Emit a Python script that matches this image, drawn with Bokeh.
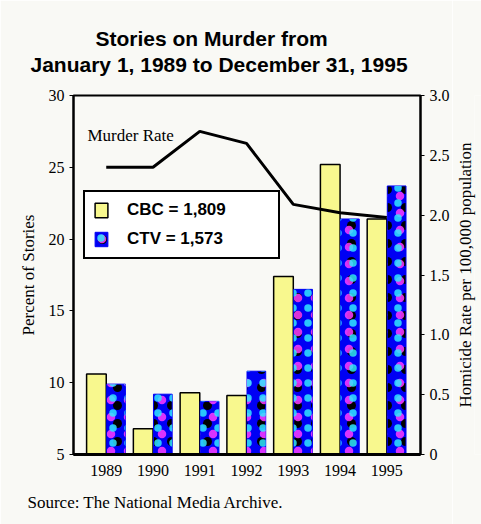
import math
from bokeh.plotting import figure
from bokeh.layouts import row
from bokeh.models import (ColumnDataSource, Range1d, LinearAxis, FixedTicker, Label,
                          Legend, LegendItem, NumeralTickFormatter, Title)
from bokeh.embed import file_html
from bokeh.resources import INLINE

# ---- data ----
years = ["1989", "1990", "1991", "1992", "1993", "1994", "1995"]
cbc = [10.6, 6.8, 9.3, 9.1, 17.4, 25.2, 21.4]
ctv = [9.9, 9.2, 8.7, 10.8, 16.5, 21.4, 23.7]
murder_rate = [2.40, 2.40, 2.70, 2.60, 2.09, 2.02, 1.98]
left_ticks = [5, 10, 15, 20, 25, 30]
right_ticks = [0, 0.5, 1.0, 1.5, 2.0, 2.5, 3.0]

SERIF = "Liberation Serif"
SANS = "Liberation Sans"
BG = "#f9f9f5"
YELLOW = "#f8f88e"
BLUE = "#0000f4"

idx = list(range(len(years)))
src = ColumnDataSource(dict(
    x=idx,
    x_cbc=[i - 0.21 for i in idx],
    x_ctv=[i + 0.21 for i in idx],
    cbc=cbc, ctv=ctv, rate=murder_rate))

TOP, BOTTOM = 95, 70

p = figure(width=452, height=524, output_backend="svg", toolbar_location=None,
           x_range=Range1d(-0.70, 6.72), y_range=Range1d(5, 30),
           min_border_left=73, min_border_right=30, min_border_top=TOP, min_border_bottom=BOTTOM)
p.extra_y_ranges = {"rate": Range1d(0, 3)}
p.background_fill_color = BG
p.border_fill_color = BG
p.outline_line_color = "black"
p.outline_line_width = 2
p.outline_line_alpha = 1
p.xgrid.visible = False
p.ygrid.visible = False


def safe_standoff(t, v, fallback=0):
    try:
        t.standoff = v
        return v
    except ValueError:
        t.standoff = fallback
        return fallback


# titles: items in p.above stack outward from the plot; p.title is outermost
def set_title(t, text, offset, standoff):
    t.text = text
    t.align = "left"
    t.offset = offset
    t.text_font = SANS
    t.text_font_size = "21px"
    t.text_font_style = "bold"
    t.text_color = "black"
    return safe_standoff(t, standoff)

s1 = set_title(p.title, "Stories on Murder from", 22, 5)
gap = Title(text=" ", text_font_size="2px")
t2 = Title()
s2 = set_title(t2, "January 1, 1989 to December 31, 1995", -43, -3)
gap.standoff = 17 if s2 < 0 else 12
p.add_layout(gap, "above")
p.add_layout(t2, "above")

# source note
p.add_layout(Title(text="Source: The National Media Archive.", align="left", offset=-46,
                   text_font=SERIF, text_font_size="17px", text_font_style="normal",
                   text_color="black", standoff=25), "below")

# bars
cbc_r = p.vbar(x="x_cbc", top="cbc", bottom=5, width=0.42, source=src,
               fill_color=YELLOW, line_color="black", line_width=1.5)
ctv_r = p.vbar(x="x_ctv", top="ctv", bottom=5, width=0.40, source=src,
               fill_color=BLUE, line_color=BLUE, line_width=1,
               hatch_pattern="dot", hatch_color="black", hatch_scale=18, hatch_weight=0.1)
ctv_m = p.vbar(x="x_ctv", top="ctv", bottom=5, width=0.40, source=src,
               fill_alpha=0, line_alpha=0, hatch_alpha=0.85,
               hatch_pattern="dot", hatch_color="#ff3cff", hatch_scale=17, hatch_weight=0.1)
ctv_c = p.vbar(x="x_ctv", top="ctv", bottom=5, width=0.40, source=src,
               fill_alpha=0, line_alpha=0, hatch_alpha=0.85,
               hatch_pattern="dot", hatch_color="#30e8ff", hatch_scale=15, hatch_weight=0.1)

# murder rate line
p.line(x="x", y="rate", source=src, y_range_name="rate", line_color="black", line_width=3)

def style_axis(ax):
    ax.major_label_text_font = SERIF
    ax.major_label_text_font_size = "16px"
    ax.major_label_text_color = "black"
    ax.axis_label_text_color = "black"
    ax.axis_line_color = "black"
    ax.major_tick_line_color = "black"
    ax.minor_tick_out = 0
    ax.minor_tick_in = 0
    ax.major_tick_in = 0

# axes
yax = p.yaxis[0]
style_axis(yax)
yax.ticker = FixedTicker(ticks=left_ticks)
yax.axis_label = "Percent of Stories"
yax.axis_label_text_font = SERIF
yax.axis_label_text_font_size = "17px"
yax.axis_label_text_font_style = "normal"
yax.axis_label_standoff = 8
yax.major_label_standoff = 5
yax.major_tick_out = 4
yax.axis_line_width = 2

xax = p.xaxis[0]
style_axis(xax)
xax.ticker = FixedTicker(ticks=idx)
xax.major_label_overrides = {i: y for i, y in zip(idx, years)}
xax.major_label_standoff = 10
xax.major_tick_out = 0
xax.axis_line_width = 3

rax = LinearAxis(y_range_name="rate", ticker=FixedTicker(ticks=right_ticks),
                 formatter=NumeralTickFormatter(format="0.0"))
style_axis(rax)
rax.major_label_overrides = {0: "0"}
rax.major_label_standoff = 5
rax.major_tick_out = 4
rax.axis_line_width = 2
p.add_layout(rax, "right")

# legend
legend = Legend(items=[LegendItem(label="CBC = 1,809", renderers=[cbc_r]),
                       LegendItem(label="CTV = 1,573", renderers=[ctv_r, ctv_m, ctv_c])],
                location=(10, 195), orientation="vertical",
                glyph_width=16, glyph_height=18, label_height=18, label_width=143,
                label_standoff=18, padding=8, spacing=9, margin=0,
                border_line_color="black", border_line_width=2, border_line_alpha=1,
                background_fill_color="white", background_fill_alpha=1,
                label_text_font=SANS, label_text_font_style="bold",
                label_text_font_size="17px", label_text_color="black")
p.add_layout(legend, "center")

p.add_layout(Label(x=14, y=319, x_units="screen", y_units="screen", text="Murder Rate",
                   text_font=SERIF, text_font_size="17px", text_baseline="middle",
                   text_color="black"))

# narrow strip on the right carrying the right-hand axis title (reads bottom to top)
q = figure(width=29, height=524, output_backend="svg", toolbar_location=None,
           x_range=Range1d(0, 1), y_range=Range1d(0, 3),
           min_border_left=21, min_border_right=0, min_border_top=TOP, min_border_bottom=BOTTOM)
q.background_fill_color = BG
q.border_fill_color = BG
q.outline_line_color = None
q.xgrid.visible = False
q.ygrid.visible = False
q.xaxis.visible = False
qa = q.yaxis[0]
qa.ticker = FixedTicker(ticks=[])
qa.axis_line_color = None
qa.major_tick_out = 0
qa.major_tick_in = 0
qa.minor_tick_out = 0
qa.minor_tick_in = 0
qa.axis_label = "Homicide Rate per 100,000 population"
qa.axis_label_text_font = SERIF
qa.axis_label_text_font_size = "17px"
qa.axis_label_text_font_style = "normal"
qa.axis_label_text_color = "black"
qa.axis_label_standoff = 0

layout = row(p, q)
open("out.html", "w").write(file_html(layout, INLINE))
